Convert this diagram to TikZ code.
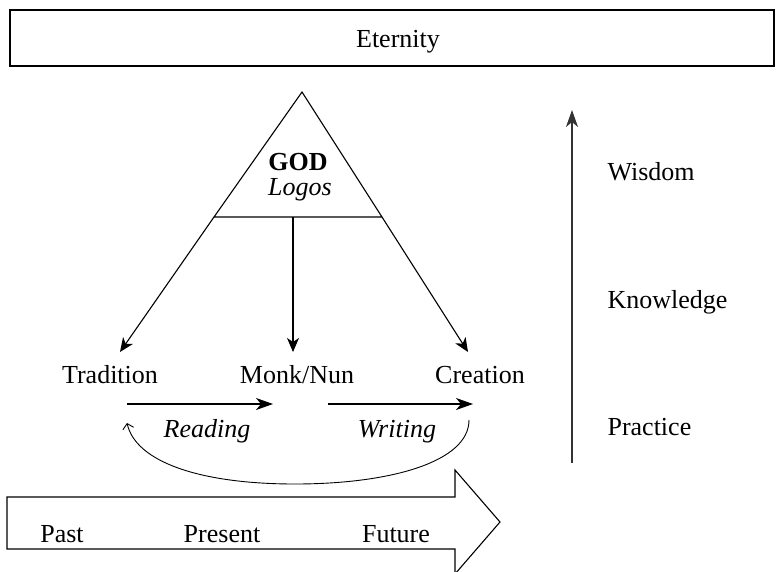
\documentclass[tikz,border=0pt]{standalone}
\usepackage{fontspec}
\setmainfont{Liberation Serif}
\usetikzlibrary{arrows.meta}
\begin{document}
\begin{tikzpicture}[x=1pt,y=-1pt,line width=1.1pt,
  lbl/.style={font=\rmfamily\fontsize{26}{30}\selectfont,anchor=base,inner sep=0pt},
  ilbl/.style={lbl,font=\rmfamily\fontsize{26}{30}\selectfont\itshape},
  blbl/.style={lbl,font=\rmfamily\fontsize{26}{30}\selectfont\bfseries},
  rlbl/.style={lbl,anchor=base west},
  farrow/.style={-{Stealth[length=14pt,width=12pt,inset=4pt]},line width=1.1pt},
  harrow/.style={-{Stealth[length=17pt,width=12pt,inset=5pt]},line width=1.1pt},
  openarrow/.style={-{Straight Barb[length=5pt,width=11pt]},line width=0.9pt}]
\useasboundingbox (0,0) rectangle (784,571);
% Eternity box
\node[draw,minimum width=764pt,minimum height=56pt,inner sep=0pt] (etbox) at (392,38) {};
\node[lbl] (eternity) at (398,47) {Eternity};
% triangle
\coordinate (apex) at (302,92);
\coordinate (lcut) at (214,217);
\coordinate (rcut) at (382,217);
\coordinate (mcut) at (293,217);
\coordinate (ltip) at (120,352);
\coordinate (mtip) at (293,352);
\coordinate (rtip) at (468,352);
\draw (lcut) -- (apex) -- (rcut) -- cycle;
\node[blbl] (god) at (298,170) {GOD};
\node[ilbl] (logos) at (300,195) {Logos};
\draw[farrow] (lcut) -- (ltip);
\draw[farrow] (rcut) -- (rtip);
\draw[farrow] (mcut) -- (mtip);
% middle row
\node[lbl] (tradition) at (110,383) {Tradition};
\node[lbl] (monk) at (297,383) {Monk/Nun};
\node[lbl] (creation) at (480,383) {Creation};
\coordinate (r1) at (127,404);
\coordinate (r2) at (273,404);
\coordinate (w1) at (328,404);
\coordinate (w2) at (473,404);
\draw[harrow] (r1) -- (r2);
\draw[harrow] (w1) -- (w2);
\node[ilbl] (reading) at (207,437) {Reading};
\node[ilbl] (writing) at (397,437) {Writing};
% loop back
\coordinate (c1) at (469,420);
\coordinate (cb) at (295,484);
\coordinate (c2) at (127,423);
\draw[openarrow] (c1) .. controls (469,462) and (390,484) .. (cb)
  .. controls (200,484) and (136,462) .. (c2);
% time arrow
\draw (7,497) -- (455,497) -- (455,470) -- (500,522) -- (455,574) -- (455,549) -- (7,549) -- cycle;
\node[lbl] (past) at (62,542) {Past};
\node[lbl] (present) at (222,542) {Present};
\node[lbl] (future) at (396,542) {Future};
% vertical arrow
\coordinate (v1) at (572,463);
\coordinate (v2) at (572,110);
\draw[-{Stealth[length=17pt,width=12pt,inset=5pt]},line width=1.2pt,black!80] (v1) -- (v2);
\node[rlbl] (wisdom) at (607,180) {Wisdom};
\node[rlbl] (knowledge) at (607,308) {Knowledge};
\node[rlbl] (practice) at (607,435) {Practice};
\end{tikzpicture}
\end{document}
